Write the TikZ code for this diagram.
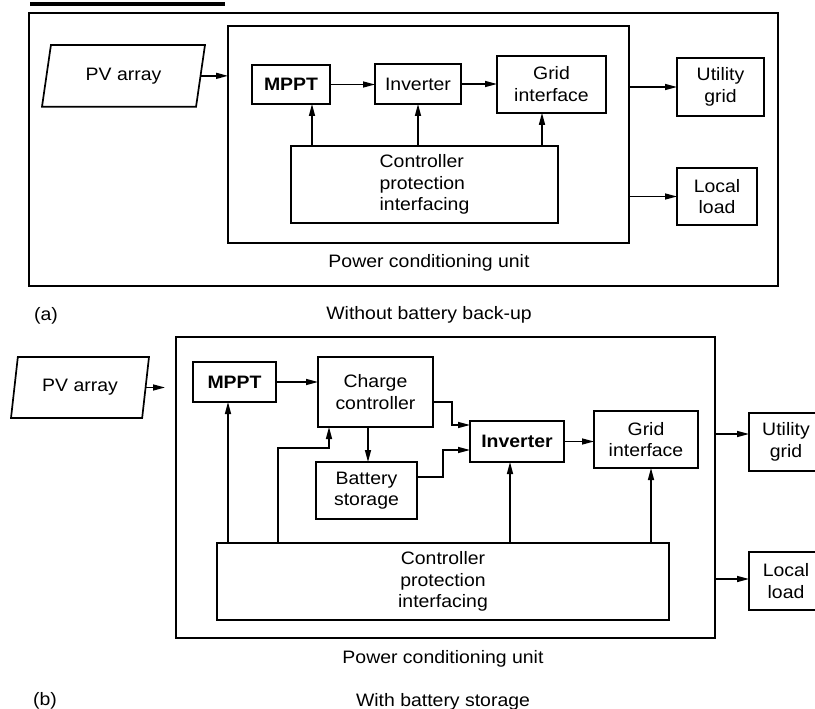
\documentclass[tikz,border=0pt]{standalone}
\usepackage{fontspec}
\setmainfont{Liberation Sans}[FakeStretch=1.08]
\usetikzlibrary{shapes.geometric,arrows.meta}
\begin{document}
\begin{tikzpicture}[x=1pt,y=-1pt,
  txt/.style={font=\fontsize{18}{21.5}\selectfont},
  bold/.style={font=\fontsize{18}{21.5}\selectfont\bfseries},
  blk/.style={draw, line width=1.7pt, inner sep=0pt, outer sep=0pt, align=center, txt},
  frame/.style={draw, line width=1.7pt, inner sep=0pt, outer sep=0pt},
  arr/.style={line width=1.5pt, -{Triangle[length=12pt,width=6pt]}},
  lbl/.style={txt, inner sep=0pt}]
\useasboundingbox (0,0) rectangle (815,709);
\clip (0,0) rectangle (815,709);
% top underline remnant
\fill (30,2.3) rectangle (225,5.7);

% ---------- panel (a) ----------
\node[frame, minimum width=749pt, minimum height=273pt] (outerA) at (403.5,149.5) {};
\node[frame, minimum width=401pt, minimum height=217.3pt] (innerA) at (428.5,134.35) {};
\node[blk, trapezium, trapezium left angle=61, trapezium right angle=119, trapezium stretches body, minimum width=163pt, minimum height=61.7pt] (pvA) at (123.5,75.85) {PV array};
\node[blk, bold, minimum width=78pt, minimum height=39pt] (mpptA) at (291,84.5) {MPPT};
\node[blk, minimum width=86pt, minimum height=40pt] (invA) at (418,84) {Inverter};
\node[blk, minimum width=109pt, minimum height=57pt] (gridA) at (551.5,84.3) {Grid\\interface};
\node[blk, minimum width=267pt, minimum height=77pt, align=left] (ctrlA) at (424.5,184.5) {Controller\\protection\\interfacing};
\node[blk, minimum width=87pt, minimum height=58pt] (utilA) at (720.5,87) {Utility\\grid};
\node[blk, minimum width=80pt, minimum height=57pt] (loadA) at (717,196.5) {Local\\load};
\node[lbl] (pcuA) at (429,263) {Power conditioning unit};
\node[lbl] (labA) at (46,316) {(a)};
\node[lbl] (capA) at (429,315) {Without battery back-up};

\coordinate (mA) at ([xshift=21pt]mpptA.south);
\coordinate (gA) at ([xshift=-9.5pt]gridA.south);
\draw[arr] (pvA.east) -- (pvA.east -| innerA.west);
\draw[arr] (mpptA.east) -- (mpptA.east -| invA.west);
\draw[arr] (invA.east) -- (invA.east -| gridA.west);
\draw[arr] (mA |- ctrlA.north) -- (mA);
\draw[arr] (invA.south |- ctrlA.north) -- (invA.south);
\draw[arr] (gA |- ctrlA.north) -- (gA);
\draw[arr] (utilA.west -| innerA.east) -- (utilA.west);
\draw[arr] (loadA.west -| innerA.east) -- (loadA.west);

% ---------- panel (b) ----------
\node[frame, minimum width=539pt, minimum height=301pt] (innerB) at (445.5,487.5) {};
\node[blk, trapezium, trapezium left angle=67, trapezium right angle=113, trapezium stretches body, minimum width=138pt, minimum height=61pt] (pvB) at (80,387.5) {PV array};
\node[blk, bold, minimum width=83pt, minimum height=40pt] (mpptB) at (234.5,382) {MPPT};
\node[blk, minimum width=115pt, minimum height=70pt] (ccB) at (375.5,392) {Charge\\controller};
\node[blk, minimum width=101pt, minimum height=57pt] (batB) at (366.5,490.5) {Battery\\storage};
\node[blk, bold, minimum width=94pt, minimum height=41pt] (invB) at (517,441.5) {Inverter};
\node[blk, minimum width=104pt, minimum height=57pt] (gridB) at (646,439.5) {Grid\\interface};
\node[blk, minimum width=452pt, minimum height=77pt] (ctrlB) at (443,581.5) {Controller\\protection\\interfacing};
\node[blk, minimum width=74pt, minimum height=58pt] (utilB) at (786,442) {Utility\\grid};
\node[blk, minimum width=74pt, minimum height=58pt] (loadB) at (786,581) {Local\\load};
\node[lbl] (pcuB) at (443,659) {Power conditioning unit};
\node[lbl] (labB) at (45,701) {(b)};
\node[lbl] (capB) at (443,702) {With battery storage};

\coordinate (pvBend) at (165,387.5);
\coordinate (mB) at ([xshift=-6.5pt]mpptB.south);
\coordinate (tapB) at ([xshift=-165pt]ctrlB.north);
\coordinate (cB) at ([xshift=-46.5pt]ccB.south);
\coordinate (cbB) at ([xshift=-7.5pt]ccB.south);
\coordinate (coB) at ([yshift=-10pt]ccB.east);
\coordinate (ciB) at ([yshift=16.5pt]invB.west);
\coordinate (boB) at ([yshift=13.5pt]batB.east);
\coordinate (biB) at ([yshift=-8.5pt]invB.west);
\coordinate (iB) at ([xshift=-7pt]invB.south);
\coordinate (gB) at ([xshift=5pt]gridB.south);
\coordinate (uB) at ([yshift=8pt]utilB.west);
\coordinate (lB) at ([yshift=2pt]loadB.west);

\draw[arr] (pvB.east) -- (pvB.east -| pvBend);
\draw[arr] (mpptB.east) -- (mpptB.east -| ccB.west);
\draw[arr] (mB |- ctrlB.north) -- (mB);
\draw[arr] (tapB) -- ++(0,-95) -| (cB);
\draw[arr] (cbB) -- (cbB |- batB.north);
\draw[arr] (coB) -- ++(19,0) |- (ciB);
\draw[arr] (boB) -- ++(26,0) |- (biB);
\draw[arr] (invB.east) -- (invB.east -| gridB.west);
\draw[arr] (iB |- ctrlB.north) -- (iB);
\draw[arr] (gB |- ctrlB.north) -- (gB);
\draw[arr] (uB -| innerB.east) -- (uB);
\draw[arr] (lB -| innerB.east) -- (lB);
\end{tikzpicture}
\end{document}
